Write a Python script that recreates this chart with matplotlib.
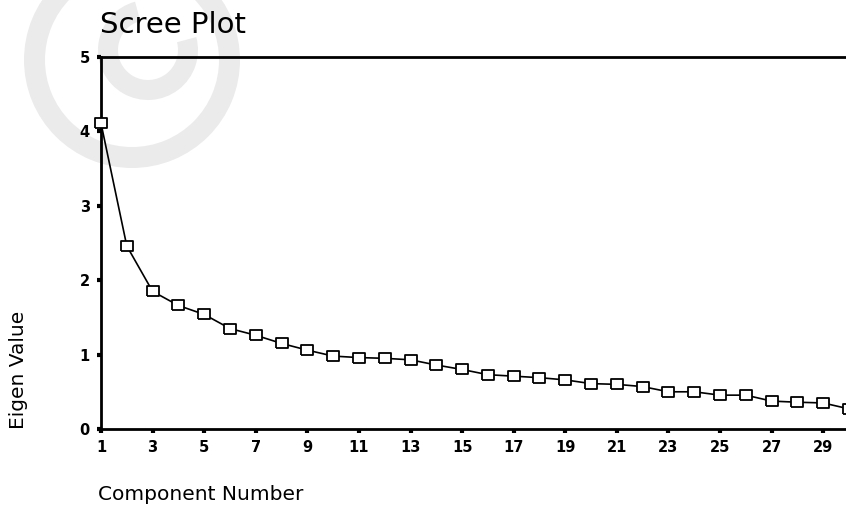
"""
Scree plot of component eigenvalues (30 components).
"""
import matplotlib
matplotlib.use('Agg')
import matplotlib.pyplot as plt
from matplotlib.patches import Wedge

# ── Data ──────────────────────────────────────────────────
components  = list(range(1, 31))
eigenvalues = [4.11, 2.46, 1.85, 1.66, 1.54, 1.35, 1.26, 1.15, 1.06, 0.98,
               0.96, 0.95, 0.93, 0.86, 0.80, 0.73, 0.71, 0.69, 0.66, 0.61,
               0.60, 0.57, 0.50, 0.50, 0.455, 0.455, 0.375, 0.36, 0.35, 0.27]
x_ticks = list(range(1, 30, 2))
y_ticks = [0, 1, 2, 3, 4, 5]

W, H = 846, 505
fig = plt.figure(figsize=(W / 100, H / 100), dpi=100)
fig.patch.set_facecolor('white')

# faint watermark in the upper-left corner (pixel coords, y up)
wm = '#ebebeb'
fig.add_artist(Wedge((132, H - 60), 108, 0, 360, width=21,
                     facecolor=wm, edgecolor='none', transform=None, zorder=0))
fig.add_artist(Wedge((148, H - 50), 50, 105, 15, width=20,
                     facecolor=wm, edgecolor='none', transform=None, zorder=0))

ax = fig.add_axes([101 / W, 76 / H, 748 / W, 372 / H])
ax.set_facecolor('none')

# square markers, a little wider than tall like the scan
box = [(-1.36, -1), (1.36, -1), (1.36, 1), (-1.36, 1), (-1.36, -1)]
ax.plot(components, eigenvalues, color='black', linewidth=1.2,
        marker=box, markersize=9.3, markerfacecolor='white',
        markeredgecolor='black', markeredgewidth=1.3, clip_on=False,
        zorder=3)

ax.set_xlim(1, 30)
ax.set_ylim(0, 5)
ax.set_xticks(x_ticks)
ax.set_yticks(y_ticks)
ax.set_xticklabels([str(t) for t in x_ticks], fontweight='bold', fontsize=10.5)
ax.set_yticklabels([str(t) for t in y_ticks], fontweight='bold', fontsize=10.5)
ax.tick_params(axis='both', direction='out', length=3, width=3, pad=5,
               colors='black')

for side in ('left', 'bottom', 'top'):
    ax.spines[side].set_linewidth(2)
    ax.spines[side].set_color('black')
ax.spines['right'].set_visible(False)

# ── Texts ─────────────────────────────────────────────────
fig.text(100 / W, 1 - 33 / H, 'Scree Plot', fontsize=21,
         ha='left', va='baseline')
fig.text(19 / W, 1 - 370 / H, 'Eigen Value', fontsize=14.5, rotation=90,
         ha='center', va='center')
fig.text(98 / W, 1 - 500 / H, 'Component Number', fontsize=14.5,
         ha='left', va='baseline')

plt.savefig('out.png', dpi=100, facecolor='white')
